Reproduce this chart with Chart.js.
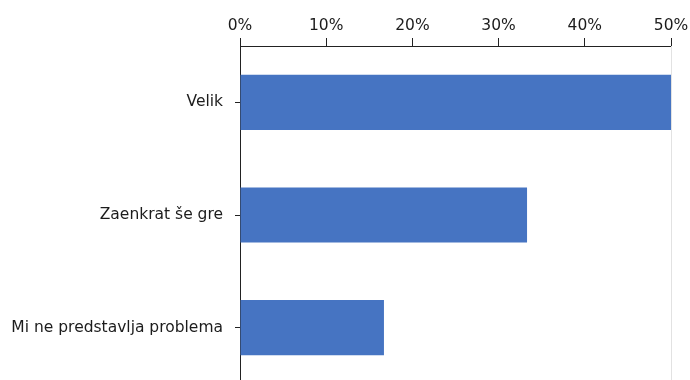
<!DOCTYPE html>
<html>
<head>
<meta charset="utf-8">
<script src="https://cdn.jsdelivr.net/npm/chart.js@4"></script>
<style>
    html, body { margin: 0; padding: 0; background: #fff; overflow: hidden; }
    canvas { display: block; }
</style>
</head>
<body>
<canvas id="barChart" width="690" height="384"></canvas>
<script>
const categories = ['Velik', 'Zaenkrat še gre', 'Mi ne predstavlja problema'];
const shares = [50, 33.3, 16.7];
const tickValues = [0, 10, 20, 30, 40, 50];

// light line along the right edge of the plot
const plotFrame = {
    id: 'plotFrame',
    beforeDatasetsDraw(chart) {
        const { ctx, chartArea: a } = chart;
        ctx.save();
        ctx.strokeStyle = '#e2e2e2';
        ctx.lineWidth = 1;
        ctx.beginPath();
        ctx.moveTo(Math.round(a.right) + 0.5, a.top);
        ctx.lineTo(Math.round(a.right) + 0.5, a.bottom);
        ctx.stroke();
        ctx.restore();
    }
};

const ctx = document.getElementById('barChart').getContext('2d');
new Chart(ctx, {
    type: 'bar',
    data: {
        labels: categories,
        datasets: [{
            data: shares,
            backgroundColor: '#4674c2',
            borderWidth: 0,
            categoryPercentage: 1,
            barPercentage: 0.49
        }]
    },
    options: {
        indexAxis: 'y',
        responsive: false,
        animation: false,
        layout: { padding: { left: 0, right: 19, top: 0, bottom: 0 } },
        scales: {
            x: {
                position: 'top',
                min: 0,
                max: 50,
                afterFit(scale) {
                    scale.height = 46;
                    scale.paddingLeft = 0;
                    scale.paddingRight = 0;
                },
                afterBuildTicks(scale) {
                    scale.ticks = tickValues.map(v => ({ value: v }));
                },
                ticks: {
                    padding: 3,
                    color: '#1c1c1c',
                    font: { family: 'DejaVu Sans', size: 15.5 },
                    callback: v => v + '%'
                },
                grid: {
                    drawOnChartArea: false,
                    tickLength: 8,
                    color: '#222'
                },
                border: { color: '#222', width: 1 }
            },
            y: {
                afterFit(scale) {
                    scale.width = 240;
                    scale.paddingTop = 0;
                    scale.paddingBottom = 0;
                },
                ticks: {
                    padding: 12,
                    color: '#1c1c1c',
                    font: { family: 'DejaVu Sans', size: 15.5 }
                },
                grid: {
                    offset: false,
                    drawOnChartArea: false,
                    tickLength: 5,
                    color: '#222'
                },
                border: { color: '#222', width: 1 }
            }
        },
        plugins: {
            legend: { display: false },
            tooltip: { enabled: false }
        }
    },
    plugins: [plotFrame]
});
</script>
</body>
</html>
